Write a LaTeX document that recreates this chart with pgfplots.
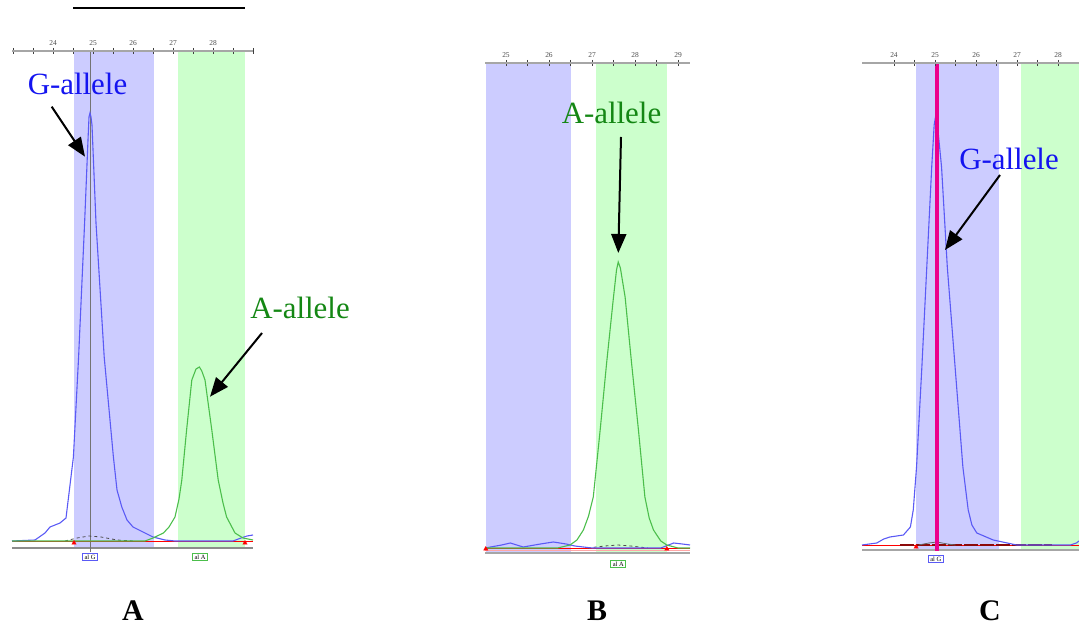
\documentclass[border=0pt]{standalone}
\usepackage{fontspec}
\setmainfont{Liberation Serif}
\usepackage{pgfplots}
\pgfplotsset{compat=1.18}
\usetikzlibrary{arrows.meta}

\definecolor{binblue}{RGB}{204,204,255}
\definecolor{bingreen}{RGB}{204,255,204}
\definecolor{traceblue}{RGB}{90,90,245}
\definecolor{tracegreen}{RGB}{75,190,75}
\definecolor{labelblue}{RGB}{20,20,240}
\definecolor{labelgreen}{RGB}{20,135,20}
\definecolor{darkred}{RGB}{140,10,10}

\tikzset{
  allelebox/.style={draw=#1, line width=1bp, fill=white, inner xsep=2bp,
    inner ysep=1.5bp, font=\fontsize{6.5}{6.5}\selectfont},
  callout/.style={black, line width=2bp,
    -{Triangle[length=19bp,width=15bp]}},
}

\pgfplotsset{
  electro/.style={
    scale only axis, clip=false, axis on top,
    anchor=south west,
    axis x line*=top, axis y line=none,
    axis line style={-, draw=black!35, line width=1.6bp},
    minor x tick num=1,
    tick align=center,
    major tick length=6bp, minor tick length=6bp,
    tick style={black!75, line width=0.8bp},
    xticklabel style={font=\fontsize{7.5}{7.5}\selectfont, text=black!70,
      yshift=-1.5bp},
    /pgf/number format/assume math mode=true,
  },
  trace/.style={line width=1.1bp},
}

\begin{document}
\begin{tikzpicture}
\useasboundingbox (0,0) rectangle (1079bp,626bp);

% ---------------- Sample A: heterozygous G/A ----------------
\begin{axis}[electro, at={(12bp,78bp)}, width=241bp, height=497bp,
  xmin=22.975, xmax=29.0, ymin=-7, ymax=490,
  xtick={23,...,29}, xticklabels={,24,25,26,27,28,}]
  \fill[binblue] (axis cs:24.525,-6) rectangle (axis cs:26.525,490);
  \fill[bingreen] (axis cs:27.125,-6) rectangle (axis cs:28.8,490);
  \draw[black!45, line width=1.8bp] (rel axis cs:0,0) -- (rel axis cs:1,0);
  \draw[black!55, line width=0.9bp] (axis cs:24.925,490) -- (axis cs:24.925,-11);
  \addplot[red, line width=0.8bp] coordinates {(22.975,0) (29.0,0)};
  \addplot[black!70, dashed, line width=0.8bp] coordinates
    {(24.3,0) (24.6,3) (24.9,5) (25.2,4) (25.6,1) (26.0,0)};
  \addplot[traceblue, trace] coordinates {
    (22.975,0) (23.55,1) (23.8,8) (23.925,14) (24.175,18) (24.325,23)
    (24.41,51) (24.51,84) (24.64,184) (24.79,318) (24.875,401) (24.9,424)
    (24.925,428) (24.95,424) (24.975,416) (25.075,318) (25.28,184)
    (25.51,84) (25.6,51) (25.72,34) (25.85,21) (26.0,14) (26.3,8)
    (26.5,4) (26.8,1) (27.05,0) (28.5,0) (28.7,3) (28.85,5) (29.0,6)};
  \addplot[tracegreen, trace] coordinates {
    (22.975,0) (26.3,0) (26.5,3) (26.76,8) (26.9,14) (27.05,24) (27.15,42)
    (27.22,61) (27.34,111) (27.47,161) (27.575,172) (27.66,174) (27.72,170)
    (27.8,161) (27.97,111) (28.13,61) (28.25,38) (28.34,24) (28.55,8)
    (28.75,3) (29.0,1)};
  \addplot[only marks, mark=triangle*, red, mark size=2.5bp] coordinates
    {(24.525,-2) (28.8,-2)};
  \node[allelebox=traceblue] at (axis cs:24.925,-16) {al G};
  \node[allelebox=tracegreen] at (axis cs:27.675,-16) {al A};
\end{axis}

% ---------------- Sample B: homozygous A ----------------
\begin{axis}[electro, at={(485bp,73bp)}, width=205bp, height=490bp,
  xmin=24.512, xmax=29.279, ymin=-5, ymax=485,
  xtick={25,...,29}]
  \fill[binblue] (axis cs:24.53,-4) rectangle (axis cs:26.51,485);
  \fill[bingreen] (axis cs:27.09,-4) rectangle (axis cs:28.74,485);
  \draw[black!35, line width=1.8bp] (rel axis cs:0,0) -- (rel axis cs:1,0);
  \addplot[red!35, line width=1bp] coordinates {(24.512,-2.5) (29.279,-2.5)};
  \addplot[red, line width=0.8bp] coordinates {(24.512,0) (29.279,0)};
  \addplot[black!70, dashed, line width=0.8bp] coordinates
    {(26.9,0) (27.3,2) (27.6,3) (27.9,2) (28.3,0)};
  \addplot[traceblue, trace] coordinates {
    (24.512,0) (24.9,3) (25.1,5) (25.4,1) (25.8,4) (26.1,6) (26.4,4)
    (26.6,2) (27.0,0) (28.6,0) (28.9,5) (29.1,4) (29.279,3)};
  \addplot[tracegreen, trace] coordinates {
    (24.512,0) (26.2,0) (26.49,3) (26.65,8) (26.8,18) (26.92,32) (27.03,51)
    (27.19,118) (27.34,185) (27.5,251) (27.57,278) (27.61,286) (27.66,280)
    (27.77,251) (27.92,185) (28.08,118) (28.23,51) (28.33,30) (28.43,18)
    (28.6,7) (28.74,3) (29.0,0) (29.279,0)};
  \addplot[only marks, mark=triangle*, red, mark size=2.5bp] coordinates
    {(24.53,-1) (28.74,-1)};
  \node[allelebox=tracegreen] at (axis cs:27.61,-16) {al A};
\end{axis}

% ---------------- Sample C: homozygous G ----------------
\begin{axis}[electro, at={(862bp,76bp)}, width=217bp, height=487bp,
  xmin=23.22, xmax=28.512, ymin=-5, ymax=482,
  xtick={24,...,28}]
  \fill[binblue] (axis cs:24.54,-4) rectangle (axis cs:26.56,482);
  \fill[bingreen] (axis cs:27.1,-4) rectangle (axis cs:28.512,482);
  \draw[black!35, line width=1.8bp] (rel axis cs:0,0) -- (rel axis cs:1,0);
  \addplot[red, line width=0.8bp] coordinates {(23.22,0) (28.512,0)};
  \addplot[darkred, line width=1.6bp, dash pattern=on 14bp off 2bp]
    coordinates {(24.15,0) (27.85,0)};
  \addplot[black!60, line width=0.8bp] coordinates
    {(24.6,0) (24.85,2) (25.05,3) (25.3,1) (25.5,0)};
  \addplot[traceblue, trace] coordinates {
    (23.22,0) (23.58,2) (23.75,6) (23.9,8) (24.23,10) (24.4,18) (24.47,35)
    (24.55,78) (24.68,178) (24.8,278) (24.92,378) (24.98,420) (25.02,430)
    (25.06,420) (25.16,378) (25.3,278) (25.49,178) (25.68,78) (25.81,35)
    (25.9,20) (26.02,12) (26.42,5) (26.99,0) (28.3,0) (28.45,2) (28.512,4)};
  \draw[magenta, line width=4bp] (axis cs:25.037,482) -- (axis cs:25.037,-6);
  \addplot[only marks, mark=triangle*, red, mark size=2.5bp] coordinates
    {(24.54,-2)};
  \node[allelebox=traceblue] at (axis cs:25.02,-14) {al G};
\end{axis}

% ---------------- annotations ----------------
\draw[black, line width=1.5bp] (73bp,618bp) -- (245bp,618bp);

\draw[callout] (51.7bp,519.3bp) -- (85bp,469.3bp);
\draw[callout] (262bp,293bp) -- (210bp,229.3bp);
\draw[callout] (621bp,489bp) -- (618.3bp,373bp);
\draw[callout] (1000bp,451bp) -- (945bp,376bp);

\node[anchor=base, text=labelblue, font=\fontsize{31}{31}\selectfont]
  at (77.5bp,531bp) {G-allele};
\node[anchor=base, text=labelgreen, font=\fontsize{31}{31}\selectfont]
  at (300bp,307bp) {A-allele};
\node[anchor=base, text=labelgreen, font=\fontsize{31}{31}\selectfont]
  at (611.5bp,502bp) {A-allele};
\node[anchor=base, text=labelblue, font=\fontsize{31}{31}\selectfont]
  at (1009bp,456bp) {G-allele};

\node[anchor=base, font=\bfseries\fontsize{30}{30}\selectfont] at (133bp,6bp) {A};
\node[anchor=base, font=\bfseries\fontsize{30}{30}\selectfont] at (597bp,6bp) {B};
\node[anchor=base, font=\bfseries\fontsize{30}{30}\selectfont] at (990bp,6bp) {C};
\end{tikzpicture}
\end{document}
